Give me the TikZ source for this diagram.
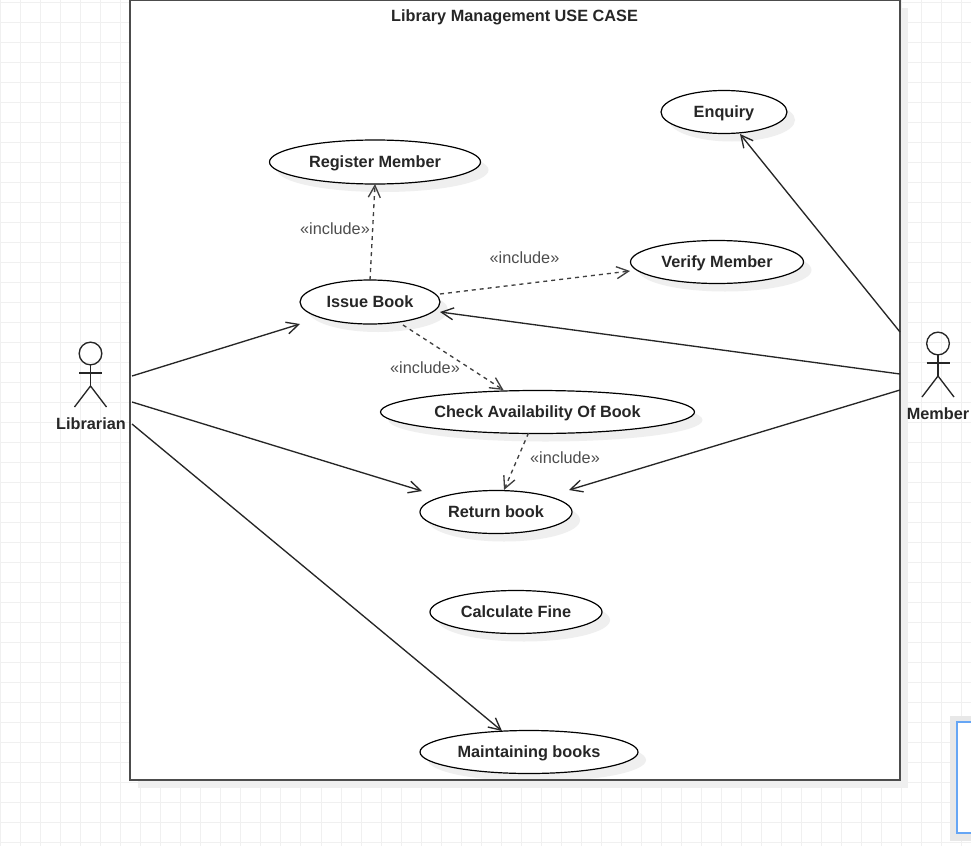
\documentclass[tikz,border=0pt]{standalone}
\usepackage{fontspec}
\setmainfont{Liberation Sans}
\usetikzlibrary{arrows.meta,shapes.geometric,shadows}
\definecolor{gridline}{HTML}{F0F0F0}
\definecolor{shadowgray}{HTML}{EFEFEF}
\definecolor{labelgray}{HTML}{4D4D4D}
\definecolor{panelblue}{HTML}{66A6F5}
\newcommand\bodyfont{\fontsize{12.2}{15}\selectfont}
\tikzset{
    usecase/.style 2 args={ellipse,draw=black,fill=white,line width=0.9pt,inner sep=0pt,outer sep=0pt,
        minimum width=#1*0.75pt,minimum height=#2*0.75pt,text height=10pt,text depth=2.5pt,
        font=\bodyfont\bfseries,text=black!85,drop shadow={shadow xshift=6pt,shadow yshift=-6pt,fill=shadowgray,opacity=1}},
    includelabel/.style={font=\bodyfont,text=labelgray,inner sep=0pt},
    actorname/.style={font=\bodyfont\bfseries,text=black!85,inner sep=0pt},
    assoc/.style={-{Straight Barb[length=9pt,width=9pt]},line width=1pt,black!85},
    includes/.style={-{Straight Barb[length=9pt,width=9pt]},dashed,line width=1pt,black!75},
}
\begin{document}
\begin{tikzpicture}[x=0.75pt,y=-0.75pt]
        \newcommand\stickman[1]{
            \begin{scope}[shift={#1},line width=1pt,black!85]
                \draw(0,-32.5)circle(8.5pt);
                \draw(0,-21)--(0,0);
                \draw(-11.5,-13)--(11.5,-13);
                \draw(-16,21)--(0,0)--(16,21);
            \end{scope}
        }
        \useasboundingbox(0,0)rectangle(971,846);
        \foreach \i in {0,...,48} \draw[gridline,line width=0.7pt](0.5+20.03*\i,0)--(0.5+20.03*\i,846);
        \foreach \j in {0,...,42} \draw[gridline,line width=0.7pt](0,2+20*\j)--(971,2+20*\j);
        \fill[shadowgray](138,8)rectangle(908,788);
        \fill[white](130,0.5)rectangle(900,780);
        \fill[black!9](950,716)rectangle(971,841);
        \draw[panelblue,fill=white,line width=1pt](957,722)rectangle(975,833);
        \stickman{(90.5,386)}
        \stickman{(938,376)}
        \node[actorname](librarian) at (91,424){Librarian};
        \node[actorname](member) at (938,414){Member};
        \node[font=\bodyfont\bfseries,text=black!85,inner sep=0pt](title) at (514.5,17){Library Management USE CASE};
        \node[usecase={211}{44}](register) at (375,162){Register Member};
        \node[usecase={126}{43}](enquiry) at (724,112){Enquiry};
        \node[usecase={173}{43}](verify) at (717,262){Verify Member};
        \node[usecase={140}{44}](issue) at (370,302){Issue Book};
        \node[usecase={314}{43}](check) at (537.5,412){Check Availability Of Book};
        \node[usecase={152}{43}](return) at (496,512){Return book};
        \node[usecase={172}{43}](fine) at (516,612){Calculate Fine};
        \node[usecase={218}{43}](maintain) at (529,752){Maintaining books};
        \draw[black!70,line width=1.2pt](130,0.5)rectangle(900,780);
        \coordinate(libA) at (132,376);
        \coordinate(libB) at (132,402);
        \coordinate(libC) at (132,424);
        \coordinate(memA) at (900,332);
        \coordinate(memB) at (900,374);
        \coordinate(memC) at (900,390);
        \draw[assoc](libA)--([shift={(-70,22)}]issue.center);
        \draw[assoc](libB)--([shift={(-74,-21)}]return.center);
        \draw[assoc](libC)--([shift={(-27,-21)}]maintain.center);
        \draw[assoc](memA)--([shift={(16,22)}]enquiry.center);
        \draw[assoc](memB)--([shift={(70,10)}]issue.center);
        \draw[assoc](memC)--([shift={(73,-22)}]return.center);
        \draw[includes](issue.north)--(register.south);
        \draw[includes]([shift={(70,-8)}]issue.center)--([shift={(-87,9)}]verify.center);
        \draw[includes]([shift={(33,23)}]issue.center)--([shift={(-34,-22)}]check.center);
        \draw[includes]([shift={(-9,21)}]check.center)--([shift={(8,-22)}]return.center);
        \node[includelabel](incA) at (335,228.5){«include»};
        \node[includelabel](incB) at (524.5,257.5){«include»};
        \node[includelabel](incC) at (425,368){«include»};
        \node[includelabel](incD) at (565,458){«include»};
\end{tikzpicture}
\end{document}
